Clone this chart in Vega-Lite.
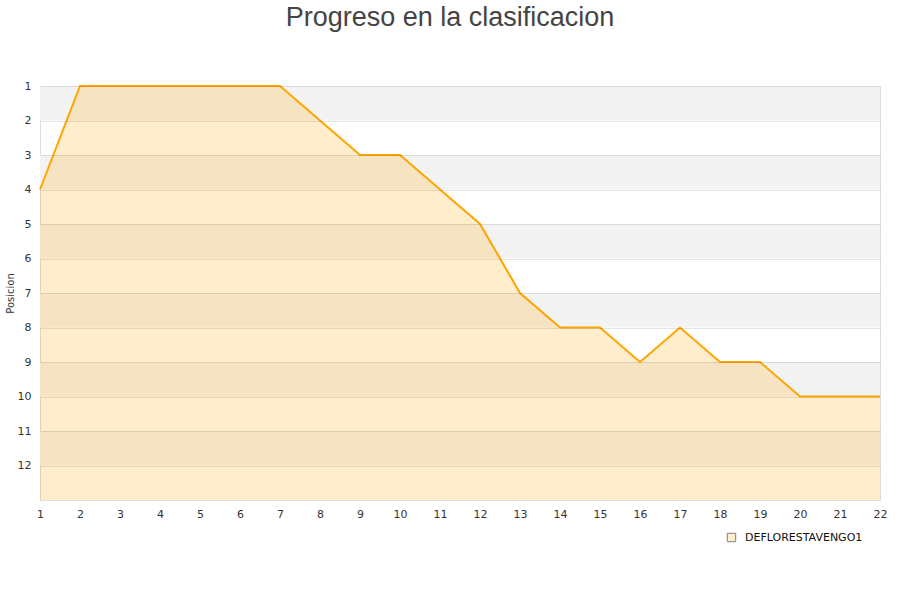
{
  "$schema": "https://vega.github.io/schema/vega-lite/v6.json",
  "width": 840,
  "height": 414,
  "autosize": {"type": "none"},
  "padding": {"left": 40, "top": 86, "right": 20, "bottom": 100},
  "background": "white",
  "title": {
    "text": "Progreso en la clasificacion",
    "font": "Liberation Sans",
    "fontSize": 27,
    "fontWeight": "normal",
    "color": "#444444",
    "anchor": "middle",
    "dx": -10,
    "offset": 48
  },
  "config": {
    "view": {"stroke": "#dddddd"},
    "axis": {"labelFont": "DejaVu Sans", "labelFontSize": 11, "labelColor": "#333333", "titleFont": "DejaVu Sans", "titleFontWeight": "normal", "titleColor": "#333333", "labelOverlap": false, "labelFlush": false, "format": "d"},
    "legend": {"symbolOpacity": 1, "symbolStrokeWidth": 1}
  },
  "datasets": {
    "bandas": [
      {"desde": 1, "hasta": 2},
      {"desde": 3, "hasta": 4},
      {"desde": 5, "hasta": 6},
      {"desde": 7, "hasta": 8},
      {"desde": 9, "hasta": 10},
      {"desde": 11, "hasta": 12}
    ],
    "progreso": [
      {"jornada": 1, "pos": 4, "equipo": "DEFLORESTAVENGO1"},
      {"jornada": 2, "pos": 1, "equipo": "DEFLORESTAVENGO1"},
      {"jornada": 3, "pos": 1, "equipo": "DEFLORESTAVENGO1"},
      {"jornada": 4, "pos": 1, "equipo": "DEFLORESTAVENGO1"},
      {"jornada": 5, "pos": 1, "equipo": "DEFLORESTAVENGO1"},
      {"jornada": 6, "pos": 1, "equipo": "DEFLORESTAVENGO1"},
      {"jornada": 7, "pos": 1, "equipo": "DEFLORESTAVENGO1"},
      {"jornada": 8, "pos": 2, "equipo": "DEFLORESTAVENGO1"},
      {"jornada": 9, "pos": 3, "equipo": "DEFLORESTAVENGO1"},
      {"jornada": 10, "pos": 3, "equipo": "DEFLORESTAVENGO1"},
      {"jornada": 11, "pos": 4, "equipo": "DEFLORESTAVENGO1"},
      {"jornada": 12, "pos": 5, "equipo": "DEFLORESTAVENGO1"},
      {"jornada": 13, "pos": 7, "equipo": "DEFLORESTAVENGO1"},
      {"jornada": 14, "pos": 8, "equipo": "DEFLORESTAVENGO1"},
      {"jornada": 15, "pos": 8, "equipo": "DEFLORESTAVENGO1"},
      {"jornada": 16, "pos": 9, "equipo": "DEFLORESTAVENGO1"},
      {"jornada": 17, "pos": 8, "equipo": "DEFLORESTAVENGO1"},
      {"jornada": 18, "pos": 9, "equipo": "DEFLORESTAVENGO1"},
      {"jornada": 19, "pos": 9, "equipo": "DEFLORESTAVENGO1"},
      {"jornada": 20, "pos": 10, "equipo": "DEFLORESTAVENGO1"},
      {"jornada": 21, "pos": 10, "equipo": "DEFLORESTAVENGO1"},
      {"jornada": 22, "pos": 10, "equipo": "DEFLORESTAVENGO1"}
    ]
  },
  "layer": [
    {
      "data": {"name": "bandas"},
      "mark": {"type": "rect", "fill": "#f3f3f3"},
      "encoding": {
        "y": {"field": "desde", "type": "quantitative", "scale": {"domain": [1, 13], "reverse": true, "nice": false, "zero": false}, "axis": {"values": [1,2,3,4,5,6,7,8,9,10,11,12], "tickCount": 50, "format": "d", "title": "Posicion", "titleFontSize": 10, "titlePadding": 2, "grid": true, "gridColor": "#000000", "gridOpacity": 0.1, "ticks": false, "domain": false, "labelPadding": 9, "zindex": 1}},
        "y2": {"field": "hasta"}
      }
    },
    {
      "data": {"name": "progreso"},
      "mark": {"type": "area", "color": "#ffa500", "opacity": 0.2, "clip": true},
      "encoding": {
        "x": {"field": "jornada", "type": "quantitative", "scale": {"domain": [1, 22], "nice": false, "zero": false}, "axis": {"values": [1,2,3,4,5,6,7,8,9,10,11,12,13,14,15,16,17,18,19,20,21,22], "tickCount": 50, "format": "d", "title": null, "grid": false, "ticks": false, "domain": false, "labelPadding": 8}},
        "y": {"field": "pos", "type": "quantitative"},
        "y2": {"datum": 13}
      }
    },
    {
      "data": {"name": "progreso"},
      "mark": {"type": "line", "color": "#ffa500", "strokeWidth": 2, "clip": false},
      "encoding": {
        "x": {"field": "jornada", "type": "quantitative"},
        "y": {"field": "pos", "type": "quantitative"}
      }
    },
    {
      "data": {"name": "progreso"},
      "mark": {"type": "point", "shape": "square", "filled": true, "opacity": 0, "strokeWidth": 1},
      "encoding": {
        "x": {"field": "jornada", "type": "quantitative"},
        "y": {"field": "pos", "type": "quantitative"},
        "fill": {
          "field": "equipo", "type": "nominal",
          "scale": {"range": ["#ffeecc"]},
          "legend": {
            "title": null, "orient": "none", "legendX": 686, "legendY": 446,
            "symbolType": "square", "symbolSize": 70, "symbolOpacity": 1, "symbolStrokeWidth": 1,
            "labelOffset": 8, "labelFont": "DejaVu Sans", "labelFontSize": 11, "labelColor": "#111111"
          }
        },
        "stroke": {
          "field": "equipo", "type": "nominal",
          "scale": {"range": ["#808080"]},
          "legend": {
            "title": null, "orient": "none", "legendX": 686, "legendY": 446,
            "symbolType": "square", "symbolSize": 70, "symbolOpacity": 1, "symbolStrokeWidth": 1,
            "labelOffset": 8, "labelFont": "DejaVu Sans", "labelFontSize": 11, "labelColor": "#111111"
          }
        }
      }
    }
  ]
}
